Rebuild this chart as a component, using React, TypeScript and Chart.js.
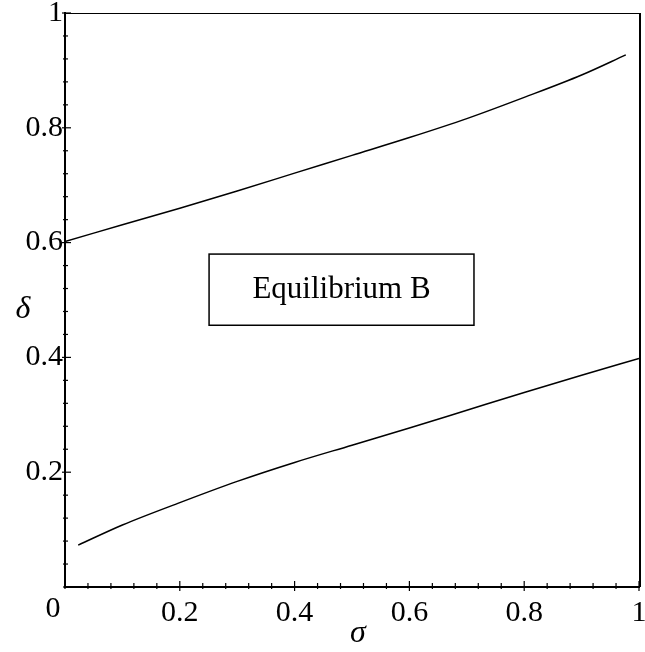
import React, { useEffect, useRef } from "react";
import { Chart, registerables } from "chart.js";

Chart.register(...registerables);

// Data
const upperSigma = [0, 0.1, 0.2, 0.3, 0.4, 0.5, 0.6, 0.7, 0.8, 0.9, 0.977];
const upperDelta = [0.602, 0.631, 0.66, 0.69, 0.721, 0.752, 0.783, 0.816, 0.853, 0.892, 0.927];
const lowerSigma = [0.023, 0.1, 0.2, 0.3, 0.4, 0.5, 0.6, 0.7, 0.8, 0.9, 1.0];
const lowerDelta = [0.073, 0.108, 0.147, 0.184, 0.217, 0.247, 0.277, 0.308, 0.339, 0.369, 0.398];
const majorTickValues = [0.2, 0.4, 0.6, 0.8, 1];
const originLabel = "0";
const xTitle = "σ";
const yTitle = "δ";
const boxText = "Equilibrium B";

const SERIF = "'Liberation Serif', 'Times New Roman', serif";

const isMajor = (v: number) =>
  majorTickValues.some((m) => Math.abs(m - v) < 1e-6);

const tickLabel = (v: number) => (isMajor(v) ? String(Number(v.toFixed(2))) : "");

const decorPlugin = {
  id: "decor",
  afterDraw(chart: any) {
    const { ctx, chartArea, scales } = chart;
    const xs = scales.x;
    const ys = scales.y;
    ctx.save();
    ctx.strokeStyle = "#000";
    ctx.fillStyle = "#000";

    // top and right frame
    ctx.lineWidth = 1.2;
    ctx.beginPath();
    ctx.moveTo(chartArea.left, chartArea.top + 0.5);
    ctx.lineTo(chartArea.right, chartArea.top + 0.5);
    ctx.stroke();
    ctx.lineWidth = 2;
    ctx.beginPath();
    ctx.moveTo(chartArea.right + 1, chartArea.top);
    ctx.lineTo(chartArea.right + 1, chartArea.bottom);
    ctx.stroke();

    // tick marks crossing the axes
    ctx.lineWidth = 1.2;
    xs.ticks.forEach((t: any) => {
      const px = xs.getPixelForValue(t.value);
      const maj = isMajor(t.value);
      const inside = maj ? 6 : 4;
      const outside = maj ? 4 : 2;
      ctx.beginPath();
      ctx.moveTo(px, chartArea.bottom - inside);
      ctx.lineTo(px, chartArea.bottom + outside);
      ctx.stroke();
    });
    ys.ticks.forEach((t: any) => {
      const py = ys.getPixelForValue(t.value);
      const maj = isMajor(t.value);
      const inside = maj ? 6 : 3;
      const outside = maj ? 3 : 2;
      ctx.beginPath();
      ctx.moveTo(chartArea.left - outside, py);
      ctx.lineTo(chartArea.left + inside, py);
      ctx.stroke();
    });

    // origin label
    ctx.font = `30px ${SERIF}`;
    ctx.textAlign = "center";
    ctx.textBaseline = "alphabetic";
    ctx.fillText(originLabel, chartArea.left - 12, chartArea.bottom + 30);

    // axis titles
    ctx.font = `italic 32px ${SERIF}`;
    ctx.fillText(xTitle, (chartArea.left + chartArea.right) / 2 + 6, chartArea.bottom + 55);
    ctx.fillText(yTitle, chartArea.left - 42, (chartArea.top + chartArea.bottom) / 2 + 18);

    // label box
    const bx0 = xs.getPixelForValue(0.251);
    const bx1 = xs.getPixelForValue(0.7125);
    const by0 = ys.getPixelForValue(0.58);
    const by1 = ys.getPixelForValue(0.456);
    ctx.lineWidth = 1.5;
    ctx.strokeRect(bx0, by0, bx1 - bx0, by1 - by0);
    ctx.font = `31px ${SERIF}`;
    ctx.fillText(boxText, (bx0 + bx1) / 2, (by0 + by1) / 2 + 8);
    ctx.restore();
  },
};

export default function App() {
  const ref = useRef<HTMLCanvasElement | null>(null);

  useEffect(() => {
    if (!ref.current) return;
    const chart = new Chart(ref.current, {
      type: "line",
      data: {
        datasets: [
          {
            data: upperSigma.map((x, i) => ({ x, y: upperDelta[i] })),
            borderColor: "#000",
            borderWidth: 1.5,
            pointRadius: 0,
            cubicInterpolationMode: "monotone",
            fill: false,
          },
          {
            data: lowerSigma.map((x, i) => ({ x, y: lowerDelta[i] })),
            borderColor: "#000",
            borderWidth: 1.5,
            pointRadius: 0,
            cubicInterpolationMode: "monotone",
            fill: false,
          },
        ],
      },
      options: {
        responsive: false,
        animation: false,
        events: [],
        layout: { padding: { left: 0, top: 13, right: 6, bottom: 0 } },
        plugins: { legend: { display: false }, tooltip: { enabled: false } },
        scales: {
          x: {
            type: "linear",
            min: 0,
            max: 1,
            grid: { display: false, drawTicks: false },
            border: { display: true, color: "#000", width: 2 },
            ticks: {
              stepSize: 0.04,
              autoSkip: false,
              maxRotation: 0,
              padding: 8,
              color: "#000",
              font: { family: SERIF, size: 30 },
              callback: (v: any) => tickLabel(Number(v)),
            },
            afterFit: (s: any) => {
              s.height = 65;
              s.paddingLeft = 0;
              s.paddingRight = 0;
            },
          },
          y: {
            type: "linear",
            min: 0,
            max: 1,
            grid: { display: false, drawTicks: false },
            border: { display: true, color: "#000", width: 2 },
            ticks: {
              stepSize: 0.04,
              autoSkip: false,
              padding: 2,
              color: "#000",
              font: { family: SERIF, size: 30 },
              callback: (v: any) => tickLabel(Number(v)),
            },
            afterFit: (s: any) => {
              s.width = 65;
              s.paddingTop = 0;
              s.paddingBottom = 0;
            },
          },
        },
      },
      plugins: [decorPlugin],
    });
    return () => chart.destroy();
  }, []);

  return (
    <div style={{ position: "absolute", left: 0, top: 0, width: 645, height: 652, background: "#fff" }}>
      <canvas ref={ref} width={645} height={652} style={{ display: "block" }} />
    </div>
  );
}
